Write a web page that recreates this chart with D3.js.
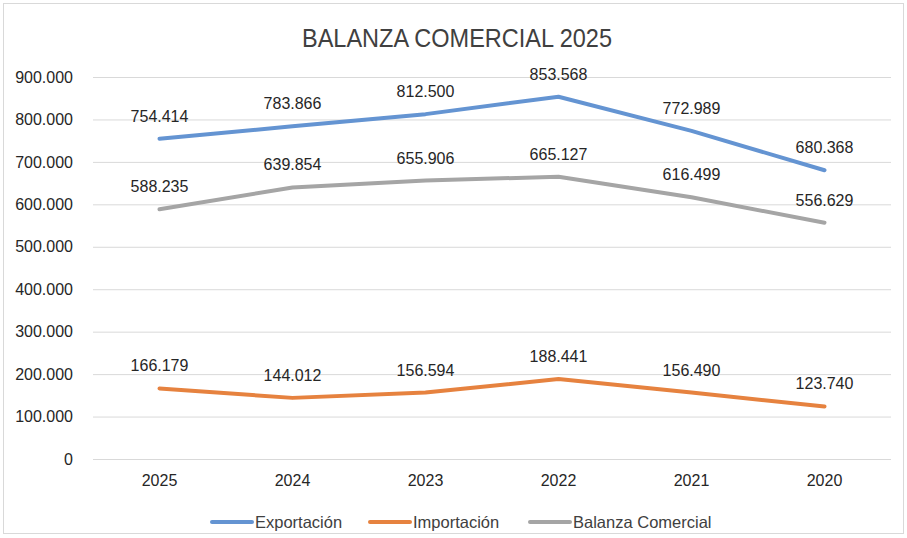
<!DOCTYPE html>
<html><head><meta charset="utf-8">
<script src="https://cdn.jsdelivr.net/npm/d3@7"></script>
<style>body{margin:0;background:#fff}svg{display:block;font-family:"Liberation Sans",Arial,sans-serif}</style>
</head><body>
<svg id="c" width="907" height="538"></svg>
<script>
const years = ["2025","2024","2023","2022","2021","2020"];
const exportacion = [754414,783866,812500,853568,772989,680368];
const importacion = [166179,144012,156594,188441,156490,123740];
const balanza = [588235,639854,655906,665127,616499,556629];
const yTicks = [0,100000,200000,300000,400000,500000,600000,700000,800000,900000];
const seriesNames = ["Exportación","Importación","Balanza Comercial"];
const colors = ["#6494d2","#e6823f","#a5a5a5"];
const series = [exportacion, importacion, balanza];

const svg = d3.select("#c");
svg.append("rect").attr("x",3.5).attr("y",3.5).attr("width",900).attr("height",530)
  .attr("fill","#fff").attr("stroke","#d9d9d9");
const x = d3.scaleBand().domain(years).range([93,891]);
const y = d3.scaleLinear().domain([0,900000]).range([459,77]);
const fmt = v => v===0 ? "0" : d3.format(",.0f")(v/1000).replace(/,/g,".") + ".000";
const fmtv = v => d3.format(",")(v).replace(/,/g,".");

svg.append("text").attr("x",457).attr("y",47).attr("text-anchor","middle")
  .attr("font-size",25).attr("fill","#404040").attr("textLength",310)
  .attr("lengthAdjust","spacingAndGlyphs").text("BALANZA COMERCIAL 2025");

const ga = svg.append("g").attr("transform","translate(93,0)")
  .call(d3.axisLeft(y).tickValues(yTicks).tickSize(-798).tickFormat(fmt).tickPadding(20));
ga.select(".domain").remove();
ga.selectAll(".tick line").attr("stroke","#d9d9d9");
ga.selectAll(".tick text").attr("font-size",16).attr("fill","#262626").attr("font-family","Liberation Sans, Arial");

const gx = svg.append("g").attr("transform","translate(0,459)")
  .call(d3.axisBottom(x).tickSize(0).tickPadding(16));
gx.select(".domain").remove();
gx.selectAll(".tick text").attr("font-size",16).attr("fill","#262626").attr("font-family","Liberation Sans, Arial");

const line = d3.line().x((d,i)=>x(years[i])+x.bandwidth()/2).y(d=>y(d));
series.forEach((s,k)=>{
  svg.append("path").datum(s).attr("d",line).attr("fill","none")
    .attr("stroke",colors[k]).attr("stroke-width",4).attr("stroke-linejoin","round").attr("stroke-linecap","round");
});
series.forEach((s,k)=>{
  svg.append("g").selectAll("text").data(s).join("text")
    .attr("x",(d,i)=>x(years[i])+x.bandwidth()/2).attr("y",d=>y(d)-17)
    .attr("text-anchor","middle").attr("font-size",16).attr("fill","#262626").text(fmtv);
});

const legX = [212,370,530];
seriesNames.forEach((n,k)=>{
  svg.append("line").attr("x1",legX[k]).attr("x2",legX[k]+40).attr("y1",522).attr("y2",522)
    .attr("stroke",colors[k]).attr("stroke-width",4).attr("stroke-linecap","round");
  svg.append("text").attr("x",legX[k]+43).attr("y",528).attr("font-size",16.5).attr("fill","#404040").text(n);
});
</script>
</body></html>
